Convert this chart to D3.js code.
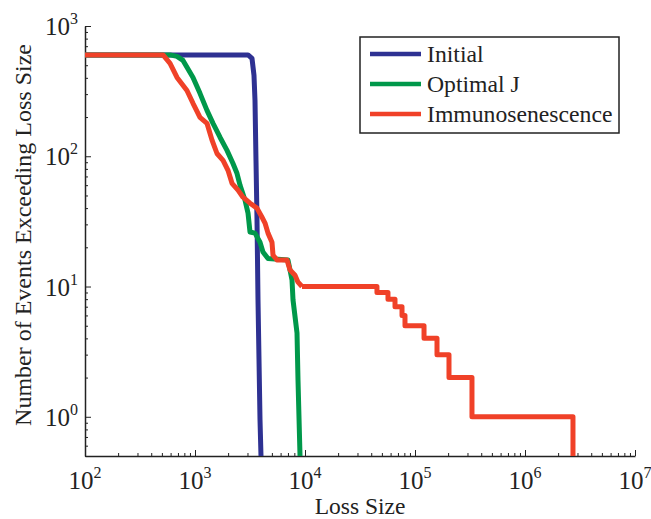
<!DOCTYPE html>
<html>
<head>
<meta charset="utf-8">
<script src="https://cdn.jsdelivr.net/npm/d3@7"></script>
<style>
  body { margin: 0; background: #fff; }
  svg text { font-family: "Liberation Serif", Tinos, "Times New Roman", "DejaVu Serif", serif; fill: #222; }
</style>
</head>
<body>
<script>
// Series data (loss size, number of events exceeding)
const blueLoss  = [100, 3034, 3297, 3438, 3511, 3585, 3662, 3739, 3818, 3899, 3981];
const blueCount = [600, 600, 564, 418, 268, 93, 32.4, 7.9, 2.74, 0.95, 0.5];

const greenLoss  = [100, 593, 686, 778, 959, 1110, 1285, 1458, 1687, 1954, 2215, 2408, 2565, 2850, 3034, 3162, 3510, 3899, 4150, 4610, 7000, 7310, 7620, 7780, 8460, 8640, 9010];
const greenCount = [600, 600, 584, 544, 403, 304, 225, 179, 140, 111, 88, 74, 60, 46, 36.6, 26.2, 25.7, 21.9, 18.4, 16.4, 16, 13.4, 11.2, 7.9, 4.4, 1.9, 0.5];

// red: smooth-ish upper part, then a step tail from 10 events down
const redLoss  = [100, 512, 593, 686, 845, 959, 1110, 1285, 1428, 1585, 1798, 1995, 2170, 2460, 2730, 3162, 3660, 4066, 4330, 4610, 5010, 5120, 5560, 6860, 7310, 8110, 8640, 9390];
const redCount = [600, 600, 516, 403, 320, 255, 199, 179, 133, 105, 93, 78, 62, 55, 48.5, 43.6, 40, 34, 30.7, 25.7, 21.9, 17.4, 16, 16, 13.4, 12.2, 10.8, 10];
const redTailLoss  = [9390, 45100, 56800, 65800, 76200, 81100, 120800, 158500, 203700, 329600, 2730000];
const redTailCount = [10, 9, 8, 7, 6, 5, 4, 3, 2, 1, 0.5];

const seriesNames = ['Initial', 'Optimal J', 'Immunosenescence'];
const seriesColors = ['#2e3192', '#00984a', '#f04128'];

const xTickExps = [2, 3, 4, 5, 6, 7];
const yTickExps = [0, 1, 2, 3];

const width = 651, height = 519;
const margin = { left: 85, right: 16, top: 26, bottom: 63 };

const svg = d3.select('body').append('svg')
    .attr('width', width)
    .attr('height', height);

const x = d3.scaleLog().domain([1e2, 1e7]).range([margin.left, width - margin.right]);
const y = d3.scaleLog().domain([0.5, 1e3]).range([height - margin.bottom, margin.top]);

// minor tick positions (2..9 in each decade)
function minorTicks(lo, hi) {
    const out = [];
    for (let e = Math.floor(Math.log10(lo)); e < Math.ceil(Math.log10(hi)); e++) {
        for (let m = 2; m <= 9; m++) {
            const v = m * Math.pow(10, e);
            if (v >= lo && v <= hi) out.push(v);
        }
    }
    return out;
}

// axes: ticks point inward
const xAxisG = svg.append('g').attr('transform', `translate(0,${y(0.5)})`);
xAxisG.call(d3.axisBottom(x).tickValues(xTickExps.map(e => Math.pow(10, e))).tickSize(-6).tickSizeOuter(0).tickFormat(''));
xAxisG.append('g').call(d3.axisBottom(x).tickValues(minorTicks(1e2, 1e7)).tickSize(-3).tickSizeOuter(0).tickFormat(''))
    .select('.domain').remove();

const yAxisG = svg.append('g').attr('transform', `translate(${x(1e2)},0)`);
yAxisG.call(d3.axisLeft(y).tickValues(yTickExps.map(e => Math.pow(10, e))).tickSize(-6).tickSizeOuter(0).tickFormat(''));
yAxisG.append('g').call(d3.axisLeft(y).tickValues(minorTicks(0.5, 1e3)).tickSize(-3).tickSizeOuter(0).tickFormat(''))
    .select('.domain').remove();

svg.selectAll('.domain').attr('stroke', '#222').attr('stroke-width', 1.5);
svg.selectAll('.tick line').attr('stroke', '#222').attr('stroke-width', 1);

// tick labels 10^n
xTickExps.forEach(e => {
    const t = svg.append('text')
        .attr('x', x(Math.pow(10, e)))
        .attr('y', 489)
        .attr('text-anchor', 'middle')
        .style('font-size', '25px');
    t.append('tspan').text('10');
    t.append('tspan').attr('dy', -11).style('font-size', '16px').text(e);
});
yTickExps.forEach(e => {
    const t = svg.append('text')
        .attr('x', 78)
        .attr('y', y(Math.pow(10, e)) + 9)
        .attr('text-anchor', 'end')
        .style('font-size', '25px');
    t.append('tspan').text('10');
    t.append('tspan').attr('dy', -11).style('font-size', '16px').text(e);
});

// axis titles
svg.append('text')
    .attr('x', (x.range()[0] + x.range()[1]) / 2)
    .attr('y', 514)
    .attr('text-anchor', 'middle')
    .style('font-size', '23.5px')
    .text('Loss Size');

svg.append('text')
    .attr('transform', `translate(31,${(y.range()[0] + y.range()[1]) / 2 - 6}) rotate(-90)`)
    .attr('text-anchor', 'middle')
    .style('font-size', '24px')
    .text('Number of Events Exceeding Loss Size');

// lines
const series = [
    { loss: blueLoss, count: blueCount, curve: d3.curveLinear, color: seriesColors[0] },
    { loss: greenLoss, count: greenCount, curve: d3.curveLinear, color: seriesColors[1] },
    { loss: redLoss, count: redCount, curve: d3.curveLinear, color: seriesColors[2] },
    { loss: redTailLoss, count: redTailCount, curve: d3.curveStepAfter, color: seriesColors[2] }
];

series.forEach(s => {
    const pts = s.loss.map((v, j) => [v, s.count[j]]);
    const line = d3.line().x(d => x(d[0])).y(d => y(d[1])).curve(s.curve);
    svg.append('path')
        .datum(pts)
        .attr('d', line)
        .attr('fill', 'none')
        .attr('stroke', s.color)
        .attr('stroke-width', 5)
        .attr('stroke-linejoin', 'round');
});

// legend
const legend = svg.append('g');
legend.append('rect')
    .attr('x', 360).attr('y', 37)
    .attr('width', 259).attr('height', 96)
    .attr('fill', '#fff')
    .attr('stroke', '#222')
    .attr('stroke-width', 1.5);

seriesNames.forEach((name, i) => {
    const ly = 54 + i * 30;
    legend.append('line')
        .attr('x1', 370).attr('x2', 421)
        .attr('y1', ly).attr('y2', ly)
        .attr('stroke', seriesColors[i])
        .attr('stroke-width', 4.5);
    legend.append('text')
        .attr('x', 427)
        .attr('y', ly + 8)
        .style('font-size', '23.7px')
        .text(name);
});
</script>
</body>
</html>
